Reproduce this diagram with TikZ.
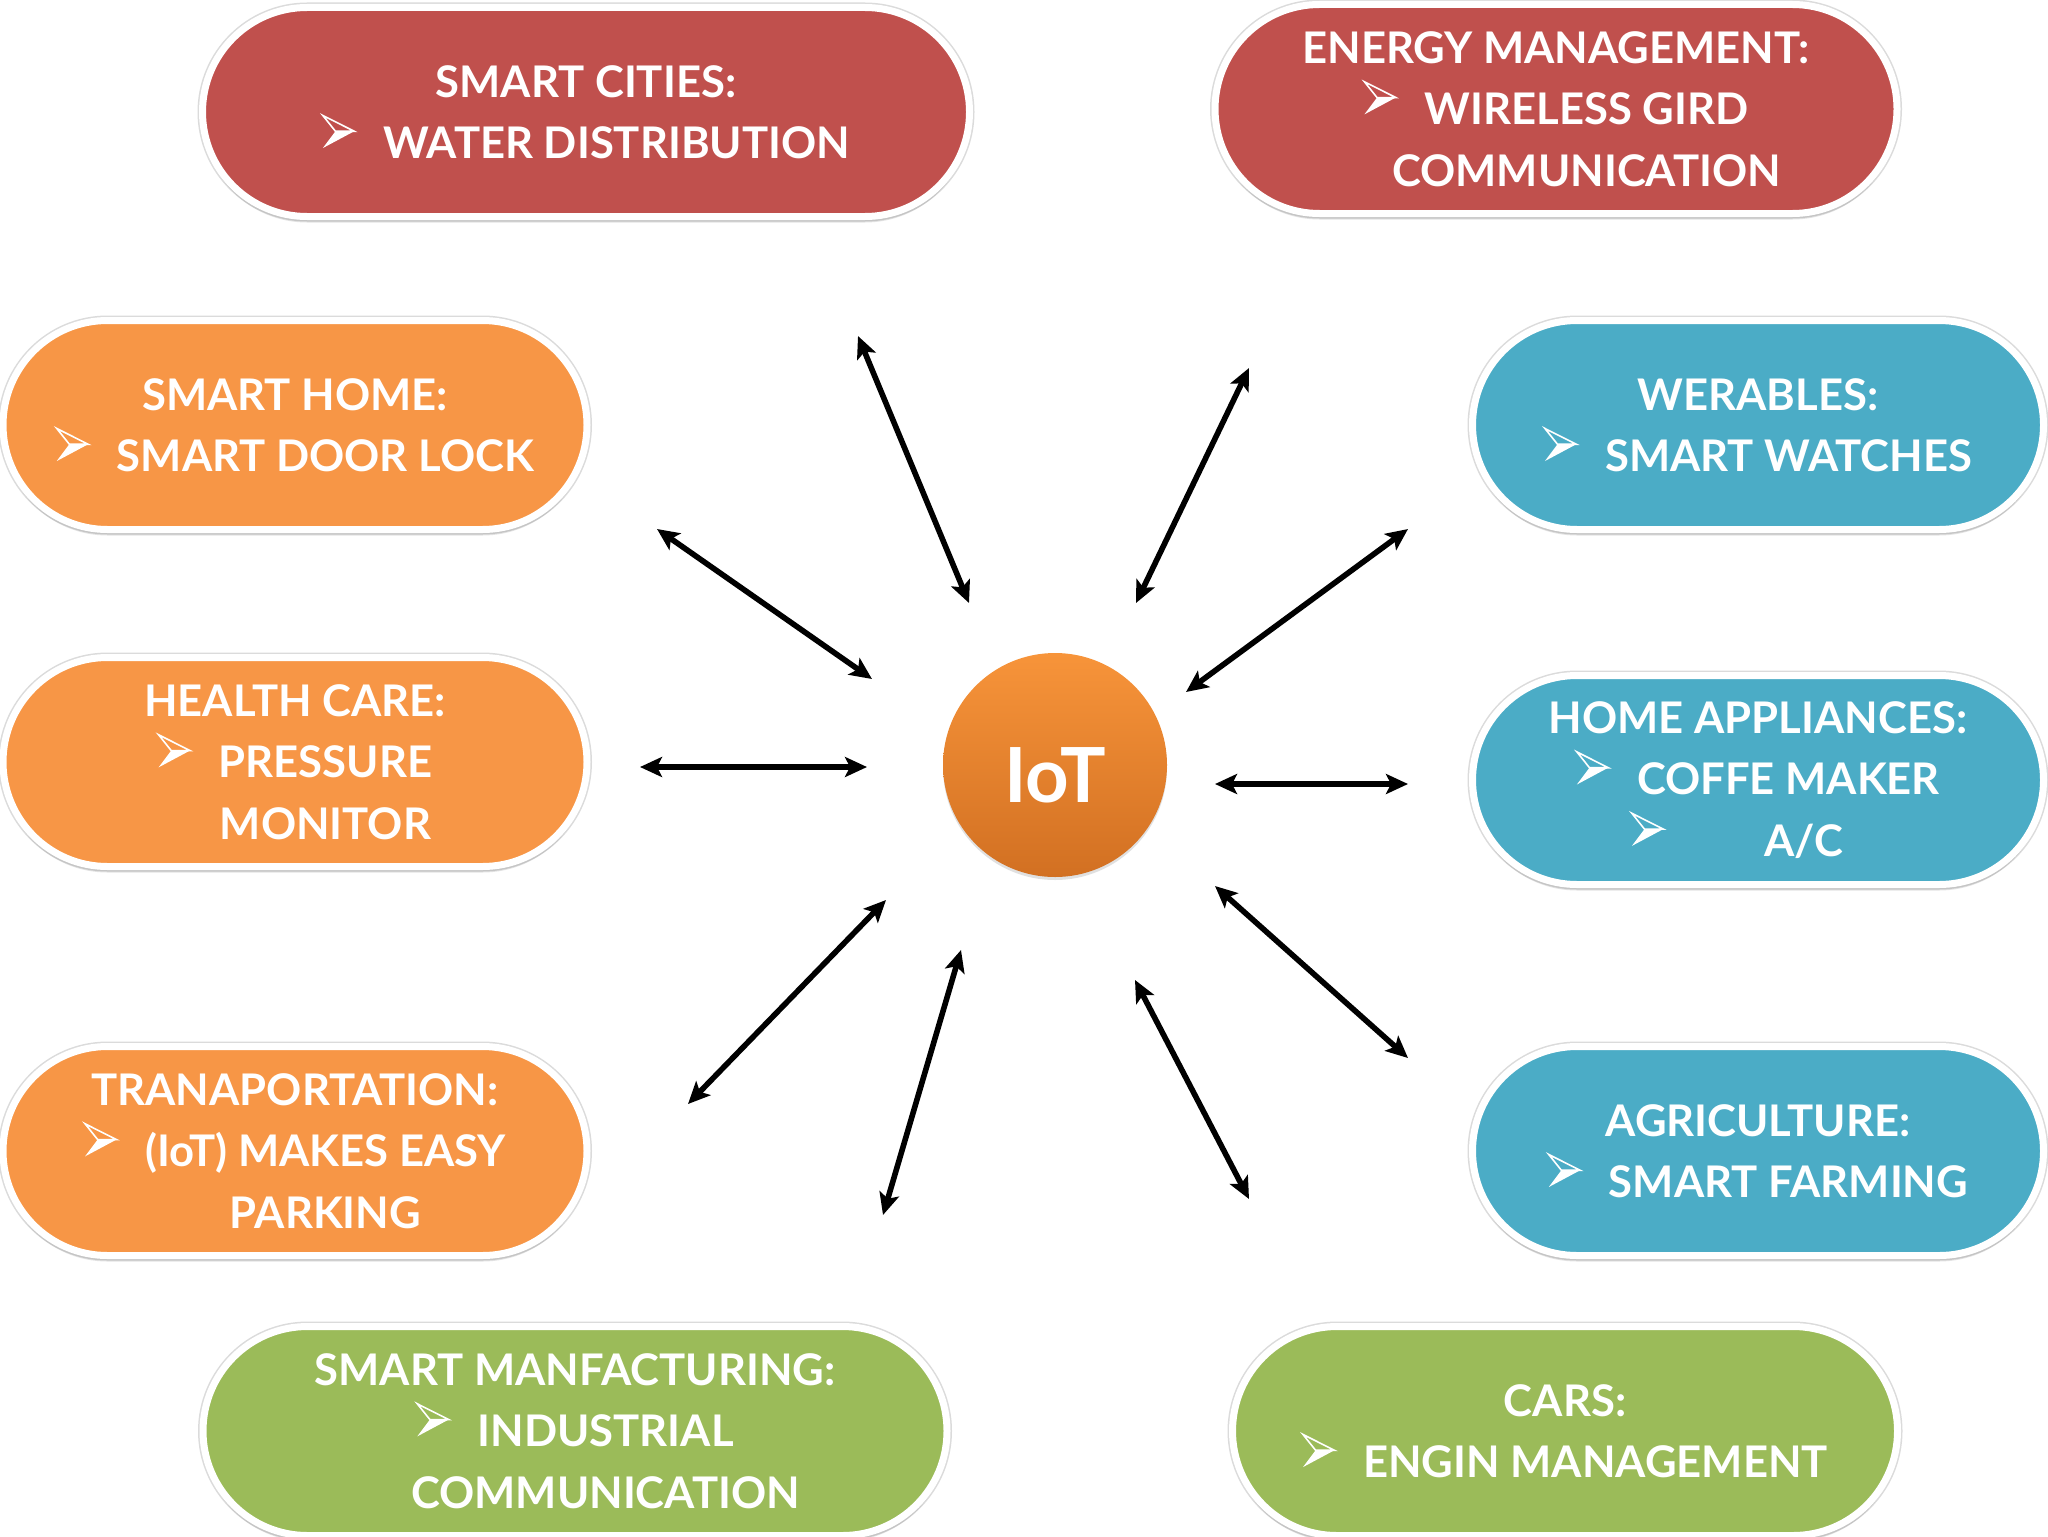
\documentclass[tikz,border=0pt]{standalone}
\usepackage{fontspec}
\setmainfont{Lato}
\usetikzlibrary{shapes.misc,shadows,arrows.meta}
\definecolor{cred}{HTML}{C0504D}
\definecolor{corange}{HTML}{F79646}
\definecolor{cblue}{HTML}{4BACC6}
\definecolor{cgreen}{HTML}{9BBB59}
\definecolor{ioTop}{HTML}{F7943A}
\definecolor{ioBot}{HTML}{D27022}
\newcommand\bul{\tikz[baseline=0pt,x=1pt,y=1pt]{\fill[white] (0,5.2)--(6.3,13.6)--(15.7,13.6)--cycle; \draw[white,line width=0.8pt,line join=miter] (0,21.5)--(15.7,13.6)--(6.3,13.6)--cycle;}\hspace{14pt}}
\newcommand\nob{\hspace{30.5pt}}
\begin{document}
\begin{tikzpicture}[x=0.5pt,y=-0.5pt,
  pill/.style={rounded rectangle, inner sep=0pt, minimum height=104.5pt, draw=white, line width=3.5pt,
    align=center, text=white, font=\fontsize{21.8}{30.7}\selectfont\bfseries,
    preaction={draw=black!14, line width=5pt},
    drop shadow={shadow xshift=0pt,shadow yshift=-3pt,opacity=0.18,fill=black!60}},
  conn/.style={{Stealth[length=11pt,width=10pt,inset=2.5pt]}-{Stealth[length=11pt,width=10pt,inset=2.5pt]}, line width=2.8pt, black}]
\useasboundingbox[fill=white] (0,0) rectangle (2048,1536);

\node[pill, fill=cred, minimum width=383.5pt] (cities) at (586,112) {SMART CITIES:\\ \bul WATER DISTRIBUTION};
\node[pill, fill=cred, minimum width=341pt] (energy) at (1556,109) {ENERGY MANAGEMENT:\\ \bul WIRELESS GIRD\\ \nob COMMUNICATION};
\node[pill, fill=corange, minimum width=292pt] (home) at (295,425) {SMART HOME:\\ \bul SMART DOOR LOCK};
\node[pill, fill=cblue, minimum width=285.5pt] (wear) at (1758,425) {WERABLES:\\ \bul SMART WATCHES};
\node[pill, fill=corange, minimum width=292pt] (health) at (295,762) {HEALTH CARE:\\ \bul PRESSURE\\ \nob MONITOR};
\node[pill, fill=cblue, minimum width=285.5pt] (appl) at (1758,780) {HOME APPLIANCES:\\ \bul COFFE MAKER\\ \bul\hspace{36pt}A/C\makebox[21pt]{}};
\node[pill, fill=corange, minimum width=292pt] (trans) at (295,1151) {TRANAPORTATION:\\ \bul (IoT) MAKES EASY\\ \nob PARKING};
\node[pill, fill=cblue, minimum width=285.5pt] (agri) at (1758,1151) {AGRICULTURE:\\ \bul SMART FARMING};
\node[pill, fill=cgreen, minimum width=372pt] (manuf) at (575,1431) {SMART MANFACTURING:\\ \bul INDUSTRIAL\\ \nob COMMUNICATION};
\node[pill, fill=cgreen, minimum width=332.5pt] (cars) at (1565,1431) {CARS:\\ \bul ENGIN MANAGEMENT};

\node[circle, minimum size=112pt, inner sep=0pt, top color=ioTop, bottom color=ioBot,
  drop shadow={shadow xshift=0pt,shadow yshift=-1.5pt,opacity=0.2,fill=black!60}] (iot) at (1055,765) {};
\node[text=white, font=\fontsize{38}{40}\selectfont\bfseries, inner sep=0pt] (iottext) at (1055,775) {IoT};

\coordinate (a1) at (858,336);  \coordinate (a2) at (969,603);
\coordinate (b1) at (1249,368); \coordinate (b2) at (1136,603);
\coordinate (c1) at (657,529);  \coordinate (c2) at (872,679);
\coordinate (d1) at (1408,529); \coordinate (d2) at (1186,692);
\coordinate (e1) at (640,767);  \coordinate (e2) at (867,767);
\coordinate (f1) at (1215,784); \coordinate (f2) at (1408,784);
\coordinate (g1) at (886,900);  \coordinate (g2) at (688,1104);
\coordinate (h1) at (961,950);  \coordinate (h2) at (883,1215);
\coordinate (i1) at (1215,886); \coordinate (i2) at (1408,1058);
\coordinate (j1) at (1135,980); \coordinate (j2) at (1249,1199);

\foreach \p in {a,b,c,d,e,f,g,h,i,j} \draw[conn] (\p1) -- (\p2);
\end{tikzpicture}
\end{document}
